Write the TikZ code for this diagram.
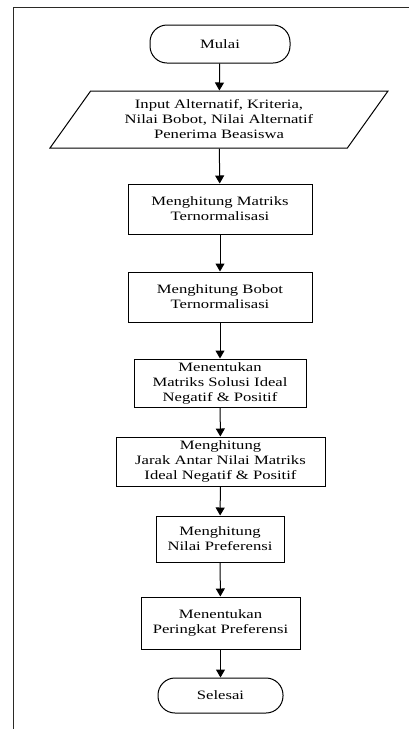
\documentclass[tikz,border=0pt]{standalone}
\usepackage{fontspec}
\setmainfont{Liberation Serif}[FakeStretch=1.3]
\usepackage{tikz}
\usetikzlibrary{shapes.geometric, arrows.meta, positioning, calc}
\definecolor{frameline}{HTML}{2B2A26}

\tikzset{
    process/.style={draw, line width=1pt, rectangle, align=center, inner sep=2pt},
    terminal/.style={draw, line width=1pt, rectangle, rounded corners=17pt, align=center},
    io/.style={draw, line width=1pt, trapezium, trapezium left angle=56, trapezium right angle=124,
        trapezium stretches=true, align=center},
    flowline/.style={line width=1pt, -{Triangle[width=9pt,length=8pt]}}
}

\begin{document}
\begin{tikzpicture}[x=1pt, y=1pt, font=\fontsize{12.8}{15}\selectfont]
    % Canvas
    \useasboundingbox (0,0) rectangle (409,-729);
    % Frame
    \draw[frameline, line width=1pt] (13,-729) -- (13,-7) -- (409,-7);
    % Start
    \node[terminal, minimum width=140, minimum height=38] (mulai) at (220,-44) {Mulai};
    % Input
    \node[io, minimum width=338, minimum height=57] (input) at (219,-119.5)
        {Input Alternatif, Kriteria,\\Nilai Bobot, Nilai Alternatif\\Penerima Beasiswa};
    % Steps
    \node[process, minimum width=184, minimum height=50] (matriks) at (220,-209)
        {Menghitung Matriks\\Ternormalisasi};
    \node[process, minimum width=184, minimum height=50] (bobot) at (220,-297)
        {Menghitung Bobot\\Ternormalisasi};
    \node[process, minimum width=172, minimum height=48] (solusi) at (220,-383)
        {Menentukan\\Matriks Solusi Ideal\\Negatif \& Positif};
    \node[process, minimum width=209, minimum height=49] (jarak) at (220.5,-461.5)
        {Menghitung\\Jarak Antar Nilai Matriks\\Ideal Negatif \& Positif};
    \node[process, minimum width=128, minimum height=46] (nilai) at (220,-539)
        {Menghitung\\Nilai Preferensi};
    \node[process, minimum width=159, minimum height=52] (peringkat) at (220.5,-623)
        {Menentukan\\Peringkat Preferensi};
    % End
    \node[terminal, minimum width=125, minimum height=35] (selesai) at (220.5,-695.5) {Selesai};
    % Connectors
    \draw[flowline] (mulai) -- (input);
    \draw[flowline] (input) -- (matriks);
    \draw[flowline] (matriks) -- (bobot);
    \draw[flowline] (bobot) -- (solusi);
    \draw[flowline] (solusi) -- (jarak);
    \draw[flowline] (jarak) -- (nilai);
    \draw[flowline] (nilai) -- (peringkat);
    \draw[flowline] (peringkat) -- (selesai);
\end{tikzpicture}
\end{document}
